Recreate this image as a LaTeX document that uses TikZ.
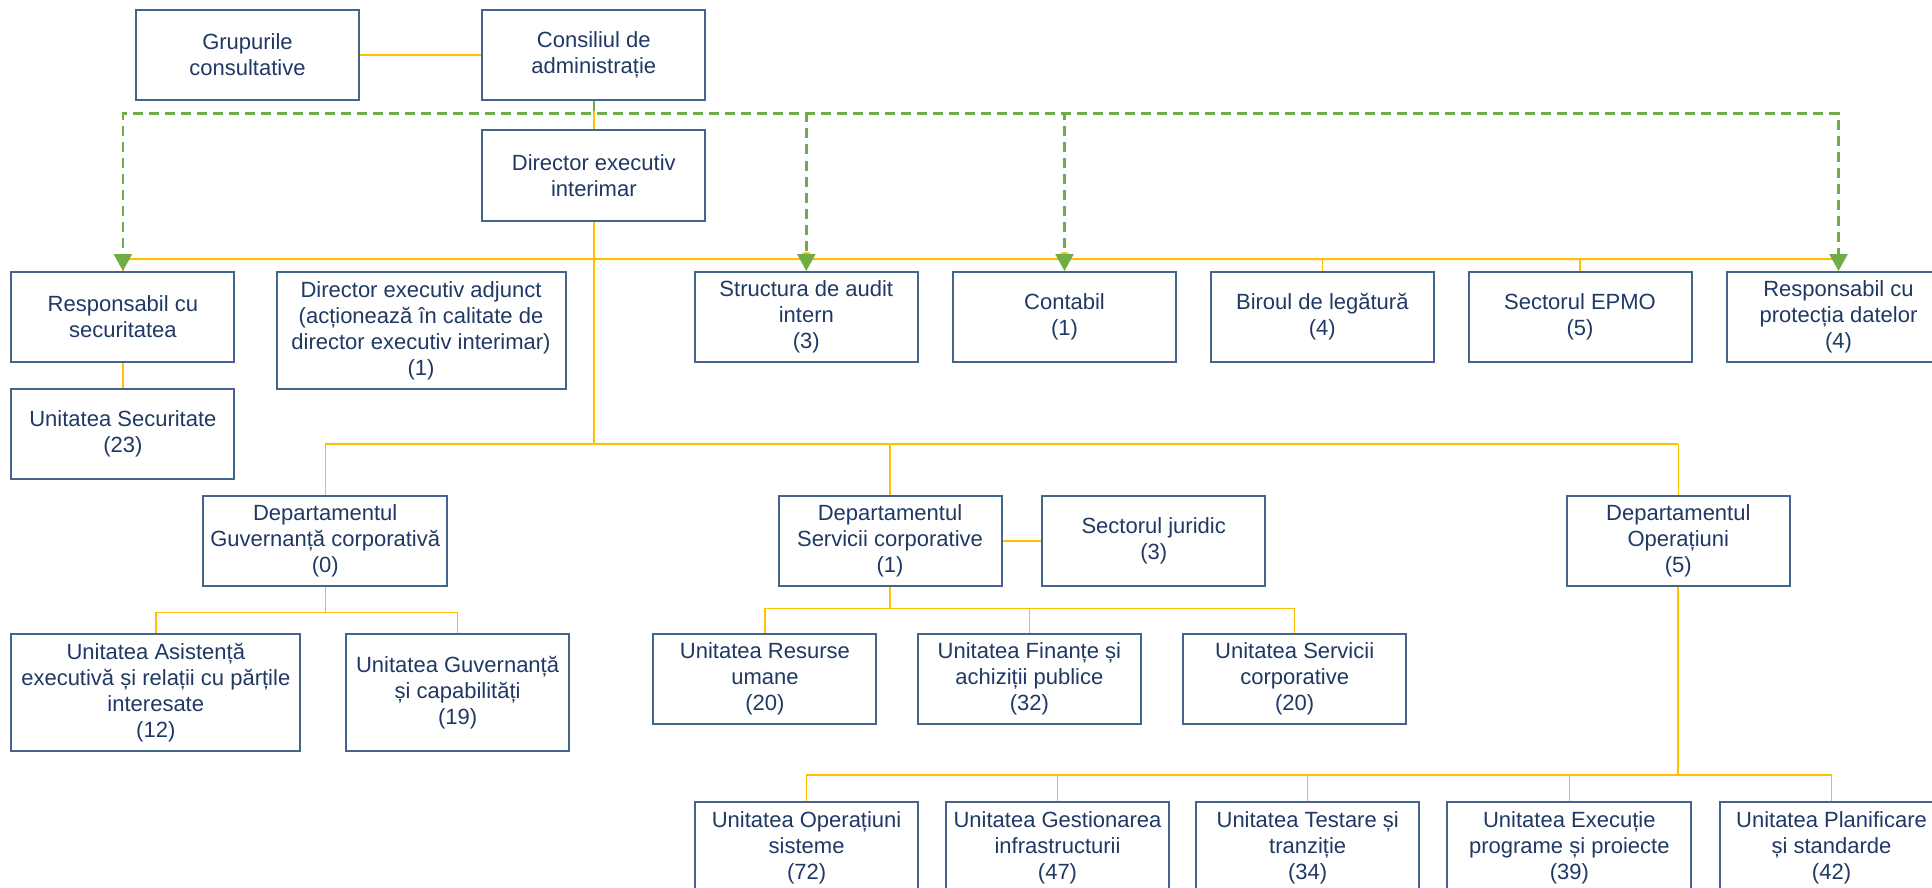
\documentclass[tikz,border=0pt]{standalone}
\usepackage{fontspec}
\setmainfont{Liberation Sans}
\usetikzlibrary{arrows.meta}
\definecolor{navy}{RGB}{31,56,100}
\definecolor{boxline}{RGB}{68,100,140}
\definecolor{gold}{RGB}{255,192,0}
\definecolor{advgreen}{RGB}{112,173,71}
\begin{document}
\begin{tikzpicture}[x=0.5pt, y=0.5pt,
  every node/.style={font=\fontsize{11}{13}\selectfont, text=navy},
  orgbox/.style={draw=boxline, line width=1pt, align=center, inner sep=0pt, minimum width=111.5pt, minimum height=45pt},
  widebox/.style={orgbox, minimum width=122pt},
  tallbox/.style={orgbox, minimum width=144.5pt, minimum height=58.5pt},
  link/.style={draw=gold, line width=0.7pt},
  mainlink/.style={draw=gold, line width=1pt},
  advice/.style={draw=advgreen, line width=1.3pt, dash pattern=on 5pt off 3pt, -{Triangle[width=9pt,length=8.5pt]}}]
  \useasboundingbox (0,0) rectangle (1932,-888);
  \clip (0,0) rectangle (1932,-888);
  % board and director
  \node[orgbox] (grup) at (247.5,-55) {Grupurile\\consultative};
  \node[orgbox] (cons) at (593.8,-55) {Consiliul de\\administrație};
  \node[orgbox] (dir) at (593.8,-175.5) {Director executiv\\interimar};
  % first level
  \node[orgbox] (secresp) at (122.9,-317) {Responsabil cu\\securitatea};
  \node[tallbox] (adj) at (421,-330.5) {Director executiv adjunct\\(acționează în calitate de\\director executiv interimar)\\(1)};
  \foreach \n/\x/\txt in {audit/806.3/{Structura de audit\\intern\\(3)}, cont/1064.5/{Contabil\\(1)},
      birou/1322.3/{Biroul de legătură\\(4)}, epmo/1580/{Sectorul EPMO\\(5)}, dpo/1838.5/{Responsabil cu\\protecția datelor\\(4)}}
    \node[orgbox] (\n) at (\x,-317) {\txt};
  \node[orgbox] (secunit) at (122.9,-434) {Unitatea Securitate\\(23)};
  % departments
  \node[widebox] (depgov) at (325.2,-541) {Departamentul\\Guvernanță corporativă\\(0)};
  \node[orgbox] (depserv) at (890,-541) {Departamentul\\Servicii corporative\\(1)};
  \node[orgbox] (jur) at (1153.7,-541) {Sectorul juridic\\(3)};
  \node[orgbox] (depop) at (1678.3,-541) {Departamentul\\Operațiuni\\(5)};
  % units
  \node[tallbox] (asist) at (155.8,-692.5) {Unitatea Asistență\\executivă și relații cu părțile\\interesate\\(12)};
  \node[orgbox, minimum height=58.5pt] (guvcap) at (457.6,-692.5) {Unitatea Guvernanță\\și capabilități\\(19)};
  \foreach \n/\x/\txt in {hr/764.9/{Unitatea Resurse\\umane\\(20)}, fin/1029.4/{Unitatea Finanțe și\\achiziții publice\\(32)},
      servu/1294.7/{Unitatea Servicii\\corporative\\(20)}}
    \node[orgbox] (\n) at (\x,-678.7) {\txt};
  \foreach \n/\x/\txt in {opsis/806.6/{Unitatea Operațiuni\\sisteme\\(72)}, infra/1057.5/{Unitatea Gestionarea\\infrastructurii\\(47)},
      test/1307.7/{Unitatea Testare și\\tranziție\\(34)}}
    \node[orgbox] (\n) at (\x,-847.3) {\txt};
  \node[widebox] (exec) at (1569.3,-847.3) {Unitatea Execuție\\programe și proiecte\\(39)};
  \node[orgbox] (plan) at (1831.5,-847.3) {Unitatea Planificare\\și standarde\\(42)};
  % reporting lines
  \coordinate (bus) at (0,-259);
  \coordinate (depbus) at (0,-444);
  \draw[link] (grup.east) -- (cons.west);
  \draw[link] (cons.south) -- (dir.north);
  \draw[mainlink] (dir.south) -- (dir.south |- depbus);
  \draw[mainlink] (secresp.north |- bus) -- ([xshift=-3pt]audit.north |- bus) arc[start angle=180, end angle=0, radius=6]
    -- ([xshift=-3pt]cont.north |- bus) arc[start angle=180, end angle=0, radius=6] -- (dpo.north |- bus);
  \foreach \n in {secresp,audit,cont,birou,epmo,dpo}
    \draw[link] (\n.north |- bus) -- (\n.north);
  \draw[link] (depgov.north |- depbus) -- (depop.north |- depbus);
  \foreach \n in {depgov,depserv,depop}
    \draw[link] (\n.north |- depbus) -- (\n.north);
  \draw[link] (secresp.south) -- (secunit.north);
  \draw[link] (depserv.east) -- (jur.west);
  \foreach \n in {asist,guvcap}
    \draw[link] (depgov.south) -- ++(0,-25.6) -| (\n.north);
  \foreach \n in {hr,fin,servu}
    \draw[link] (depserv.south) -- ++(0,-21.6) -| (\n.north);
  \draw[mainlink] (depop.south) -- ++(0,-187.8);
  \foreach \n in {opsis,infra,test,exec,plan}
    \draw[link] (depop.south) -- ++(0,-187.8) -| (\n.north);
  % advisory lines
  \foreach \n in {secresp,audit,cont,dpo}
    \draw[advice] (cons.south) -- ++(0,-12.7) -| (\n.north);
\end{tikzpicture}
\end{document}
